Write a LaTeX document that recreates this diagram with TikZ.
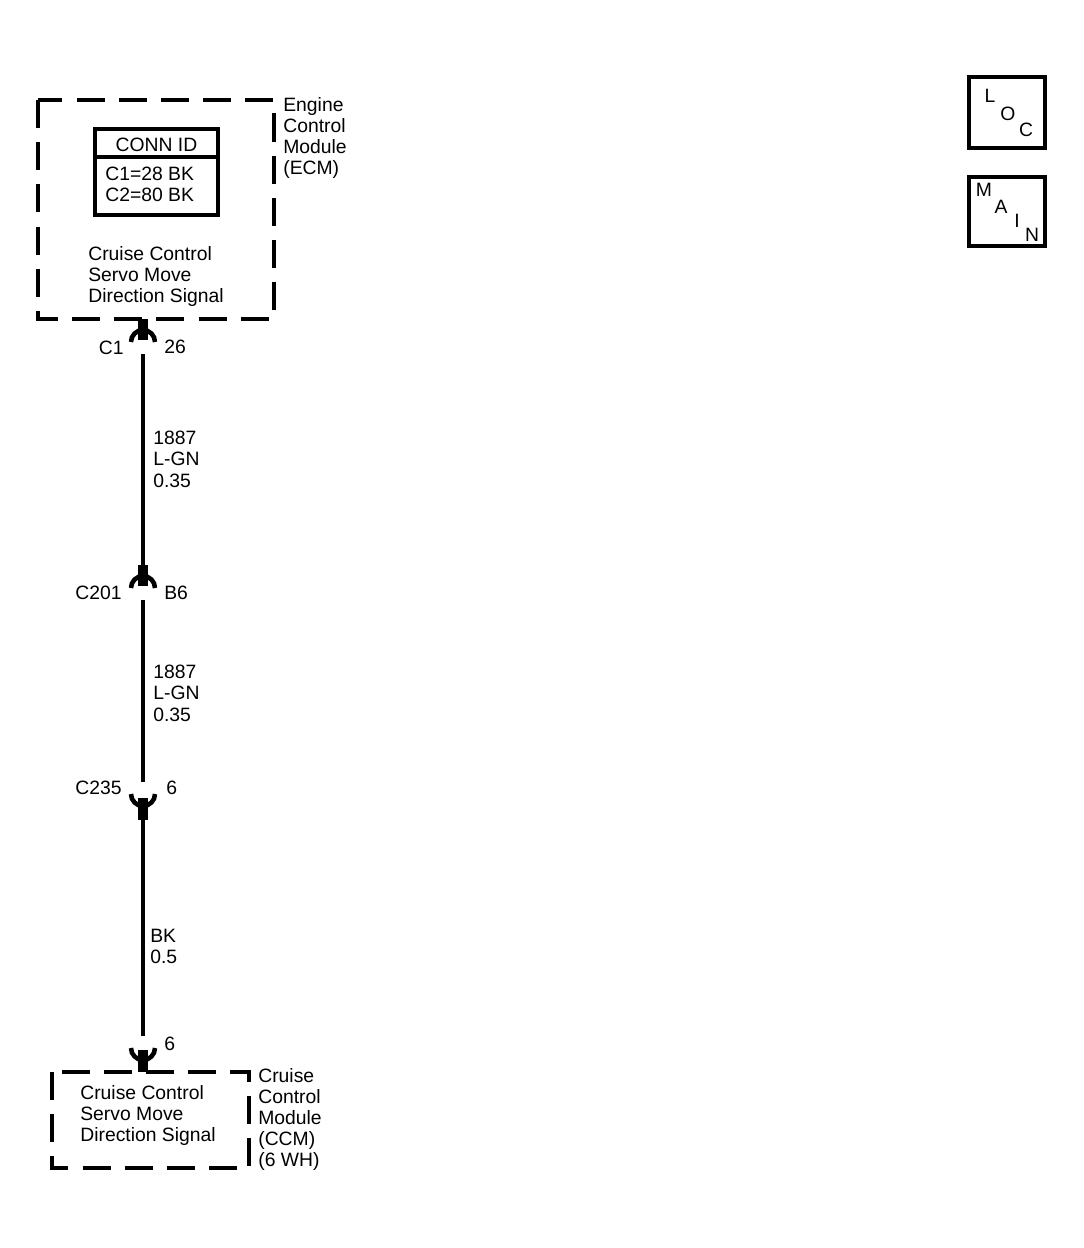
\documentclass[tikz,border=0pt]{standalone}
\usepackage{fontspec}
\setmainfont{Liberation Sans}
\begin{document}
\begin{tikzpicture}[x=0.02cm,y=-0.02cm,
	lbl/.style={font=\fontsize{11}{12}\selectfont,inner sep=0pt,align=left},
	dashbox/.style={line width=2.4pt,dash pattern=on 16pt off 8pt},
	stub/.style={line width=6pt},
	wire/.style={line width=2pt}]
	\useasboundingbox (0,0) rectangle (1084,1248);
	% modules
	\draw[dashbox] (38,100) rectangle (274,319);
	\draw[dashbox] (52,1072) rectangle (249,1168);
	\node[lbl,anchor=north west] (ecm) at (283,97) {Engine\\Control\\Module\\(ECM)};
	\node[lbl,anchor=north west] (ecmtxt) at (88,246) {Cruise Control\\Servo Move\\Direction Signal};
	\node[lbl,anchor=north west] (ccm) at (258,1068) {Cruise\\Control\\Module\\(CCM)\\(6 WH)};
	\node[lbl,anchor=north west] (ccmtxt) at (80,1085) {Cruise Control\\Servo Move\\Direction Signal};
	% conn id
	\draw[line width=2pt] (95,129) rectangle (218,215);
	\draw[line width=2pt] (95,157) -- (218,157);
	\node[lbl] (connid) at (156.5,145) {CONN ID};
	\node[lbl,anchor=north west] (conns) at (105,167) {C1=28 BK\\C2=80 BK};
	% connectors
	\coordinate (c1) at (143,342);
	\coordinate (c201) at (143,588);
	\coordinate (c235) at (143,794);
	\coordinate (c6) at (143,1048);
	\draw[stub] (143,319) -- (143,340);
	\draw[wire,line width=2.6pt] (131,342) arc (180:360:12);
	\draw[stub] (143,565) -- (143,586);
	\draw[wire,line width=2.6pt] (131,588) arc (180:360:12);
	\draw[wire,line width=2.6pt] (131,794) arc (180:0:12);
	\draw[stub] (143,798) -- (143,820);
	\draw[wire,line width=2.6pt] (131,1048) arc (180:0:12);
	\draw[stub] (143,1050) -- (143,1072);
	% wires
	\draw[wire] (143,354) -- (143,565);
	\draw[wire] (143,600) -- (143,782);
	\draw[wire] (143,820) -- (143,1036);
	% labels
	\node[lbl,anchor=east] (c1l) at (124,348) {C1};
	\node[lbl,anchor=west] (c1r) at (164,347) {26};
	\node[lbl,anchor=east] (c201l) at (122,593) {C201};
	\node[lbl,anchor=west] (c201r) at (164,593) {B6};
	\node[lbl,anchor=east] (c235l) at (122,788) {C235};
	\node[lbl,anchor=west] (c235r) at (166,788) {6};
	\node[lbl,anchor=west] (c6r) at (164,1044) {6};
	\node[lbl,anchor=north west] (w1) at (153,431) {1887\\L-GN\\0.35};
	\node[lbl,anchor=north west] (w2) at (153,665) {1887\\L-GN\\0.35};
	\node[lbl,anchor=north west] (w3) at (150,929) {BK\\0.5};
	% loc / main
	\draw[line width=2.4pt] (969,77) rectangle (1045,148);
	\draw[line width=2.4pt] (969,177) rectangle (1045,246);
	\node[lbl] (l) at (990,96) {L};
	\node[lbl] (o) at (1008,114) {O};
	\node[lbl] (c) at (1026,130) {C};
	\node[lbl] (m) at (984,190) {M};
	\node[lbl] (a) at (1001,207) {A};
	\node[lbl] (i) at (1017,221) {I};
	\node[lbl] (n) at (1032,235) {N};
\end{tikzpicture}
\end{document}
